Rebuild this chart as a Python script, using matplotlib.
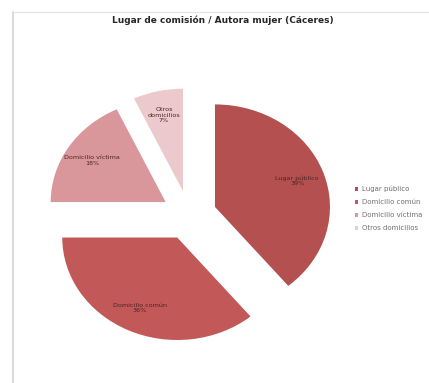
import matplotlib
matplotlib.use('Agg')
import matplotlib.pyplot as plt
from matplotlib.lines import Line2D

# Data
categories = ['Lugar público', 'Domicilio común', 'Domicilio víctima', 'Otros domicilios']
labels_in_slice = ['Lugar público', 'Domicilio común', 'Domicilio víctima', 'Otros\ndomicilios']
percentages = [39, 36, 18, 7]
colors = ['#B45150', '#C25958', '#DA979B', '#EBC9CC']

fig = plt.figure(figsize=(4.29, 3.83), dpi=100)
fig.patch.set_facecolor('white')

# Chart area frame (left and top grey lines as in the screenshot)
fig.add_artist(Line2D([13 / 429, 13 / 429], [0, 1 - 12 / 383],
                      transform=fig.transFigure, color='#D4D4D4', lw=1.2))
fig.add_artist(Line2D([13 / 429, 1], [1 - 12 / 383, 1 - 12 / 383],
                      transform=fig.transFigure, color='#E4E4E4', lw=0.8))

# Axes placed so the pie is slightly wider than tall, like the reference
ax = fig.add_axes([16.5 / 429, 14 / 383, 345 / 429, 307.5 / 383])
ax.axis('off')

label_iter = iter(labels_in_slice)


def fmt(pct):
    return f"{next(label_iter)}\n{pct:.0f}%"


wedges, texts, autotexts = ax.pie(
    percentages,
    colors=colors,
    startangle=90,
    counterclock=False,
    explode=[0.24] * len(percentages),
    autopct=fmt,
    pctdistance=0.76,
    wedgeprops={'linewidth': 0},
    textprops={'fontsize': 4.6, 'color': '#4A2525'},
)
for t in autotexts:
    t.set_horizontalalignment('center')
    t.set_linespacing(1.1)

ax.set_aspect('auto')
ax.set_xlim(-1.5, 1.5)
ax.set_ylim(-1.5, 1.5)

fig.text(0.52, 1 - 20 / 383, 'Lugar de comisión / Autora mujer (Cáceres)',
         ha='center', va='center', fontsize=6.5, fontweight='bold', color='#262626')

fig.legend(wedges, categories, loc='upper left',
           bbox_to_anchor=(355 / 429, 1 - 186 / 383),
           frameon=False, fontsize=5, labelcolor='#707070',
           handlelength=0.5, handleheight=0.5, handletextpad=0.5,
           labelspacing=1.0, borderaxespad=0, borderpad=0)

fig.savefig('out.png', dpi=100, facecolor='white')
